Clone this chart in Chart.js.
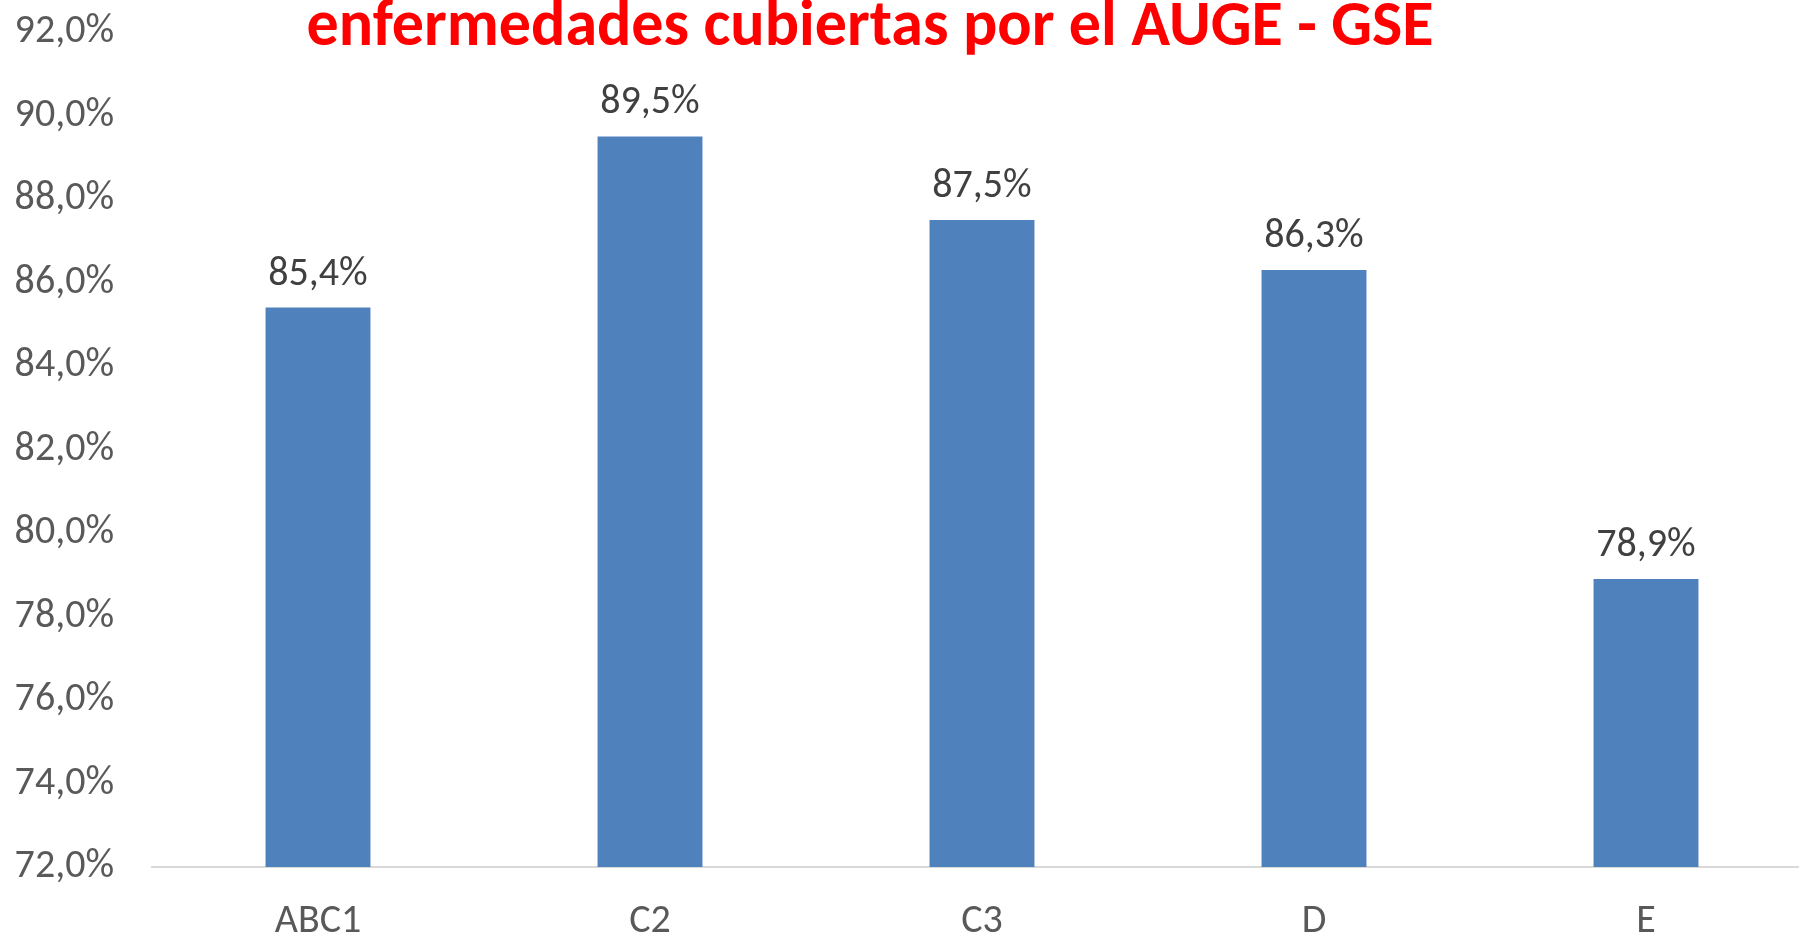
<!DOCTYPE html>
<html>
<head>
<meta charset="utf-8">
<script src="https://cdn.jsdelivr.net/npm/chart.js@4/dist/chart.umd.min.js"></script>
<style>
  html, body { margin: 0; padding: 0; background: #fff; overflow: hidden; }
  #wrap { position: relative; width: 1815px; height: 933px; }
</style>
</head>
<body>
<div id="wrap"><canvas id="gseChart" width="1815" height="933"></canvas></div>
<script>
/* chart data */
const categories = ['ABC1', 'C2', 'C3', 'D', 'E'];
const coverage = [85.4, 89.5, 87.5, 86.3, 78.9];
const yTicks = [72, 74, 76, 78, 80, 82, 84, 86, 88, 90, 92];
const titleText = 'enfermedades cubiertas por el AUGE - GSE';

const FONT = "Carlito, 'Open Sans', sans-serif";

function pct(v) {
  return v.toFixed(1).replace('.', ',') + '%';
}

// title drawn over the plot, it does not take space from it
const titlePlugin = {
  id: 'overTitle',
  afterDraw(chart) {
    const ctx = chart.ctx;
    ctx.save();
    ctx.font = "bold 64px " + FONT;
    ctx.fillStyle = '#ff0000';
    ctx.textAlign = 'center';
    ctx.textBaseline = 'alphabetic';
    ctx.fillText(titleText, 870, 45);
    ctx.restore();
  }
};

// value labels above each bar
const valueLabels = {
  id: 'valueLabels',
  afterDatasetsDraw(chart) {
    const ctx = chart.ctx;
    const meta = chart.getDatasetMeta(0);
    ctx.save();
    ctx.font = "40px " + FONT;
    ctx.fillStyle = '#404040';
    ctx.textAlign = 'center';
    ctx.textBaseline = 'alphabetic';
    meta.data.forEach((bar, i) => {
      ctx.fillText(pct(coverage[i]), bar.x, bar.y - 23);
    });
    ctx.restore();
  }
};

new Chart(document.getElementById('gseChart'), {
  type: 'bar',
  data: {
    labels: categories,
    datasets: [{
      data: coverage,
      backgroundColor: '#4f81bd',
      borderWidth: 0,
      barPercentage: 0.316,
      categoryPercentage: 1
    }]
  },
  options: {
    responsive: false,
    animation: false,
    layout: { padding: { top: 32, right: 3, left: 0, bottom: 0 } },
    plugins: {
      legend: { display: false },
      tooltip: { enabled: false }
    },
    scales: {
      x: {
        offset: true,
        grid: { display: false, drawTicks: false },
        border: { display: true, color: '#d9d9d9', width: 2 },
        ticks: {
          color: '#595959',
          font: { family: FONT, size: 40 },
          padding: 31
        },
        afterFit(scale) {
          scale.height = 66;
          scale.paddingTop = 0;
          scale.paddingBottom = 0;
        }
      },
      y: {
        min: 72,
        max: 92,
        afterBuildTicks(scale) {
          scale.ticks = yTicks.map(v => ({ value: v }));
        },
        grid: { display: false, drawTicks: false },
        border: { display: false },
        ticks: {
          color: '#595959',
          font: { family: FONT, size: 40 },
          padding: 38,
          callback: v => pct(v)
        },
        afterFit(scale) {
          scale.width = 152;
          scale.paddingTop = 0;
          scale.paddingBottom = 0;
        }
      }
    }
  },
  plugins: [valueLabels, titlePlugin]
});
</script>
</body>
</html>
